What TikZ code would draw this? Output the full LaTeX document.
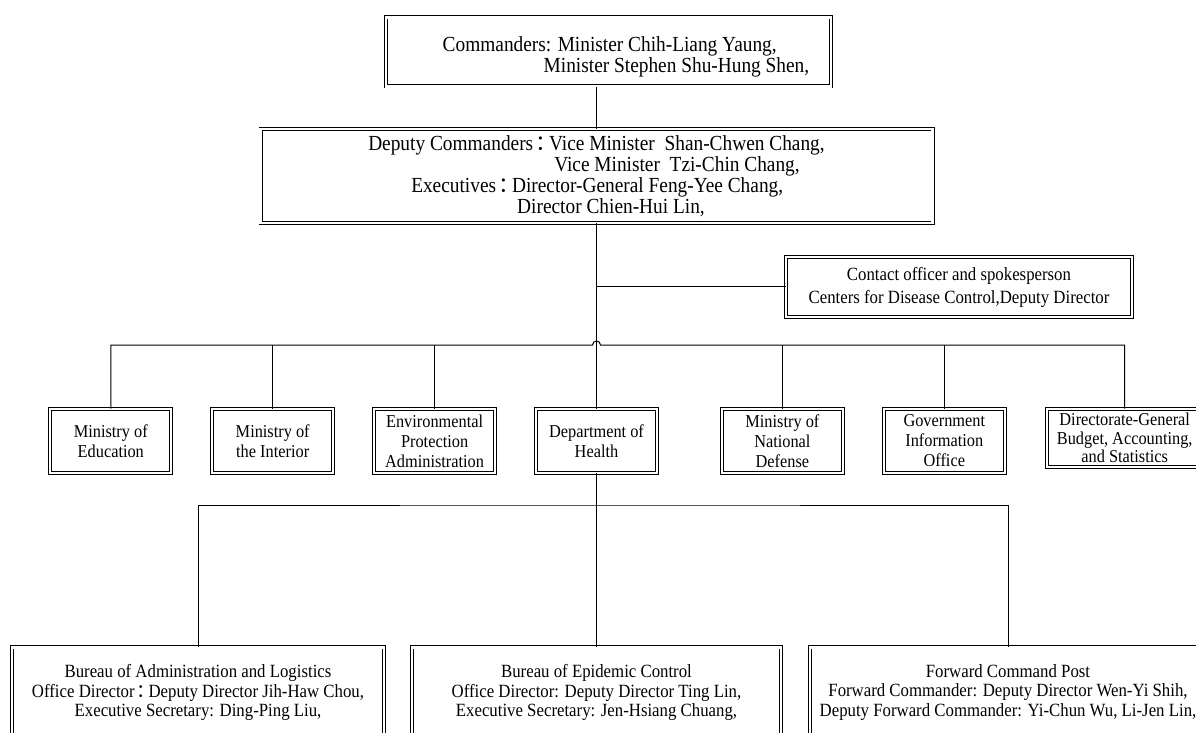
\documentclass[tikz,border=0pt]{standalone}
\usepackage{fontspec}
\setmainfont[FakeStretch=0.9]{Liberation Serif}
\newfontfamily\cjkfont{Noto Sans CJK SC}
\usetikzlibrary{positioning}
\newcommand{\fwcolon}{\hspace{0.12em}\makebox[0.62em][l]{\cjkfont ：}}
\newcommand{\smalltxt}{\fontsize{9.07}{10}\selectfont\lineskiplimit=-20pt\relax}
\newcommand{\tighttxt}{\fontsize{9.07}{9.2}\selectfont\lineskiplimit=-20pt\relax}
\newcommand{\midtxt}{\fontsize{9.33}{9.9}\selectfont\lineskiplimit=-20pt\relax}
\newcommand{\spktxt}{\fontsize{9.33}{11.5}\selectfont\lineskiplimit=-20pt\relax}
\newcommand{\bigtxt}{\fontsize{10.75}{10.6}\selectfont\lineskiplimit=-20pt\relax}
\newcommand{\deptxt}{\fontsize{10.75}{10.6}\selectfont\lineskiplimit=-20pt\relax}
\tikzset{
  unit/.style={draw, double, double distance=1.1pt, line width=0.45pt,
               align=center, inner sep=1pt, font=\smalltxt},
  agency/.style={unit, minimum width=60.5pt, minimum height=32pt},
  link/.style={line width=0.5pt}
}

\begin{document}
\begin{tikzpicture}[x=0.5pt, y=-0.5pt]
\useasboundingbox (0,0) rectangle (1196,733);
\clip (0,0) rectangle (1196,733);
% command level
\node[unit, font=\bigtxt, align=left, minimum width=222.5pt, minimum height=34.5pt] (cmd) at (608.5,52)
  {\rule{0pt}{12pt}\hspace*{17.5pt}Commanders: Minister Chih-Liang Yaung,\\
   \hspace*{68pt}Minister Stephen Shu-Hung Shen,};
\node[unit, font=\deptxt, align=left, minimum width=336pt, minimum height=47pt] (dep) at (596.5,176)
  {Deputy Commanders\fwcolon Vice Minister~~Shan-Chwen Chang,\\
   \hspace*{93pt}Vice Minister~~Tzi-Chin Chang,\\
   \hspace*{21.5pt}Executives\fwcolon Director-General Feng-Yee Chang,\\
   \hspace*{74.5pt}Director Chien-Hui Lin,};
\node[unit, font=\spktxt, minimum width=173pt, minimum height=30pt] (spk) at (959,287)
  {Contact officer and spokesperson\\Centers for Disease Control,Deputy Director};

% agencies
\node[agency] (doh) at (596.5,441) {Department of\\Health};
\node[agency, left=20pt of doh] (epa) {Environmental\\Protection\\Administration};
\node[agency, left=20pt of epa] (moi) {Ministry of\\the Interior};
\node[agency, left=20pt of moi] (edu) {Ministry of\\Education};
\node[agency, right=32pt of doh] (mnd) {Ministry of\\National\\Defense};
\node[agency, right=20pt of mnd] (gio) {Government\\Information\\Office};
\node[unit, font=\tighttxt, inner sep=0.5pt, minimum width=78pt, minimum height=29pt,
      anchor=north west] (dgbas) at ([xshift=20.5pt]gio.north east)
  {Directorate-General\\Budget, Accounting,\\and Statistics};

% health units
\node[unit, font=\midtxt, minimum width=186pt, minimum height=45pt, anchor=north] (adm) at (198,647)
  {Bureau of Administration and Logistics\\
   Office Director\fwcolon Deputy Director Jih-Haw Chou,\\
   Executive Secretary: Ding-Ping Liu,};
\node[unit, font=\midtxt, minimum width=184.5pt, minimum height=45pt, anchor=north] (epi) at (596.5,647)
  {Bureau of Epidemic Control\\
   Office Director: Deputy Director Ting Lin,\\
   Executive Secretary: Jen-Hsiang Chuang,};
\node[unit, font=\midtxt, minimum width=198pt, minimum height=45pt, anchor=north] (fwd) at (1008,647)
  {Forward Command Post\\
   Forward Commander: Deputy Director Wen-Yi Shih,\\
   Deputy Forward Commander: Yi-Chun Wu, Li-Jen Lin,};

\coordinate (hub) at (596.5,345);
\coordinate (hub2) at (596.5,505);
\draw[link] (cmd.south -| dep.north) -- (dep.north);
\draw[link] (dep.south) -- (doh.north);
\draw[link] (spk.west) -- (spk.west -| dep.south);
\draw[link] (edu.north) |- ([xshift=-2pt]hub) arc[start angle=180, end angle=0, radius=2pt] -| (dgbas.north);
\foreach \n in {moi,epa,mnd,gio}
  \draw[link] (\n.north) -- (\n.north |- hub);
\draw[link] (doh.south) -- (epi.north);
\draw[link] (adm.north) |- (hub2) -| (fwd.north);
\end{tikzpicture}
\end{document}
